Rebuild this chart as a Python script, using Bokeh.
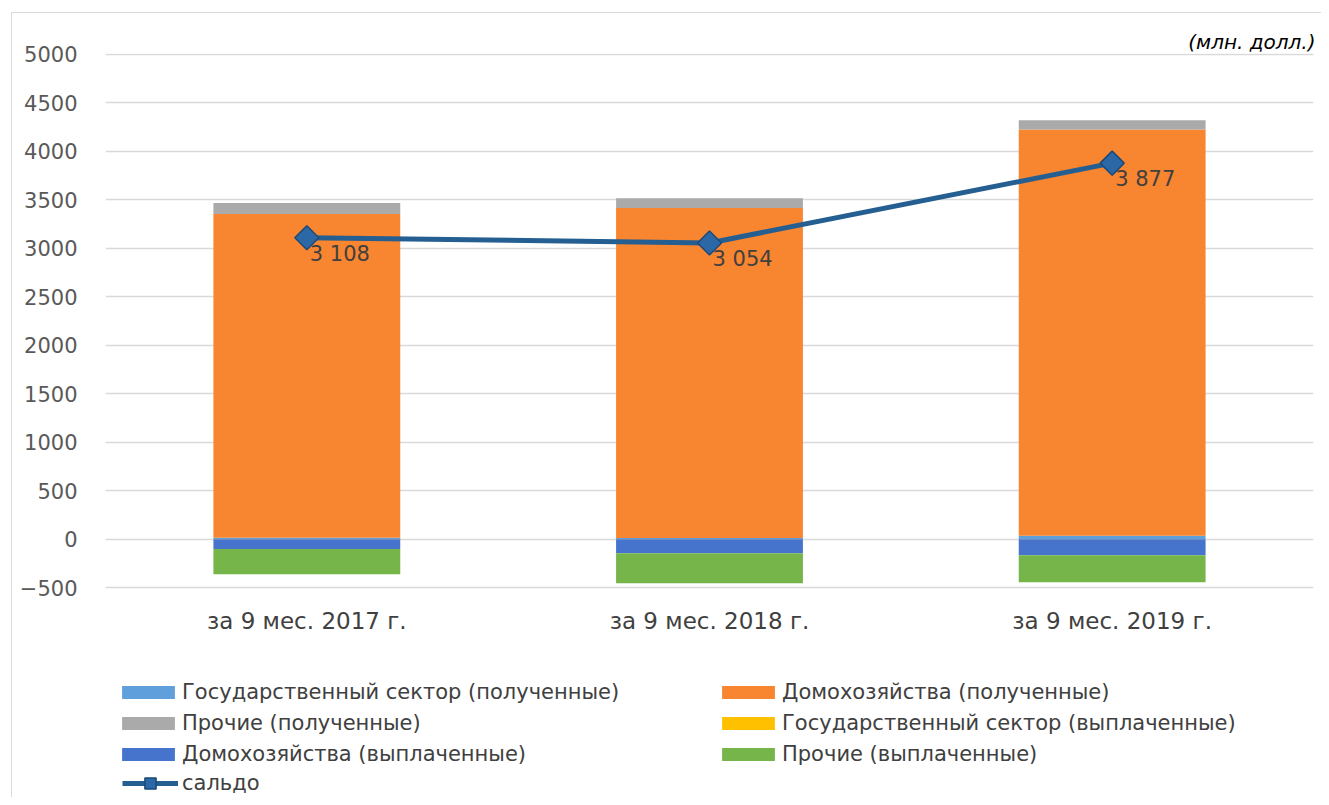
import numpy as np
from bokeh.plotting import figure
from bokeh.models import (ColumnDataSource, Legend, LegendItem, FixedTicker,
                          LabelSet, Range1d, FactorRange, Title, InlineStyleSheet)
from bokeh.embed import file_html
from bokeh.resources import INLINE
from bokeh.core.properties import value

# ---------------- data ----------------
categories = ["за 9 мес. 2017 г.", "за 9 мес. 2018 г.", "за 9 мес. 2019 г."]
gov_received = [12, 10, 35]
hh_received = [3340, 3405, 4190]
other_received = [115, 100, 95]
gov_paid = [-2, -2, -2]
hh_paid = [-100, -145, -165]
other_paid = [-260, -310, -278]
saldo = [3108, 3054, 3877]
y_ticks = [-500, 0, 500, 1000, 1500, 2000, 2500, 3000, 3500, 4000, 4500, 5000]
unit_text = "(млн. долл.)"

series_names = [
    "Государственный сектор (полученные)",
    "Домохозяйства (полученные)",
    "Прочие (полученные)",
    "Государственный сектор (выплаченные)",
    "Домохозяйства (выплаченные)",
    "Прочие (выплаченные)",
]
saldo_name = "сальдо"

# ---------------- styling ----------------
FONT = "DejaVu Sans"
colors = ["#5FA0DC", "#F8852F", "#AAAAAA", "#FFC000", "#4674CC", "#76B54A"]

pos = np.array([gov_received, hh_received, other_received], dtype=float)
neg = np.array([gov_paid, hh_paid, other_paid], dtype=float)
pos_top = np.cumsum(pos, axis=0)
pos_bot = pos_top - pos
neg_bot = np.cumsum(neg, axis=0)
neg_top = neg_bot - neg

stack_tops = [pos_top[0], pos_top[1], pos_top[2], neg_top[0], neg_top[1], neg_top[2]]
stack_bots = [pos_bot[0], pos_bot[1], pos_bot[2], neg_bot[0], neg_bot[1], neg_bot[2]]

# frame spans the whole lower area so that the legend can live inside it;
# the category axis is pinned just below the -500 gridline
Y_LOW, Y_HIGH = -2666, 5008
XAXIS_AT = -975

frame_css = InlineStyleSheet(css="""
:host::after {
  content: '';
  position: absolute;
  left: 11px; top: 12px; right: 0px; bottom: 0px;
  border-left: 1px solid #D9D9D9;
  border-top: 1px solid #D9D9D9;
  z-index: 100;
  pointer-events: none;
}
""")

W, H = 1321, 797
p = figure(x_range=FactorRange(*categories), y_range=Range1d(Y_LOW, Y_HIGH),
           width=W, height=H, output_backend="svg", toolbar_location=None,
           x_axis_location="above",
           min_border_left=105, min_border_right=8, min_border_top=53,
           min_border_bottom=0, stylesheets=[frame_css])
p.outline_line_color = None
p.background_fill_color = "white"
p.border_fill_color = "white"

renderers = []
for i, name in enumerate(series_names):
    src = ColumnDataSource(dict(x=categories, top=stack_tops[i], bottom=stack_bots[i]))
    r = p.vbar(x="x", top="top", bottom="bottom", width=0.464, source=src,
               fill_color=colors[i], line_color=None)
    renderers.append(r)

line_src = ColumnDataSource(dict(
    x=categories, y=saldo,
    lab=[f"{v:,}".replace(",", " ") for v in saldo]))
rl = p.line(x="x", y="y", source=line_src, line_color="#255E91", line_width=5)
rm = p.scatter(x="x", y="y", source=line_src, marker="square", angle=np.pi / 4,
               size=17, fill_color="#2C68A6", line_color="#1C4A78", line_width=1.5)

labels = LabelSet(x="x", y="y", text="lab", source=line_src, x_offset=3, y_offset=-16,
                  text_align="left", text_baseline="middle",
                  text_font=value(FONT), text_font_size="21px", text_color="#404040")
p.add_layout(labels)

# axes
p.yaxis.ticker = FixedTicker(ticks=y_ticks)
p.yaxis.axis_line_color = None
p.yaxis.major_tick_line_color = None
p.yaxis.minor_tick_line_color = None
p.yaxis.major_tick_out = 0
p.yaxis.major_label_standoff = 28
p.yaxis.major_label_text_font = FONT
p.yaxis.major_label_text_font_size = "21px"
p.yaxis.major_label_text_color = "#595959"

xa = p.xaxis[0]
xa.fixed_location = XAXIS_AT
xa.axis_line_color = None
xa.major_tick_line_color = None
xa.major_tick_out = 0
xa.major_label_standoff = 0
xa.major_label_text_font = FONT
xa.major_label_text_font_size = "23px"
xa.major_label_text_color = "#404040"

p.xgrid.grid_line_color = None
p.ygrid.grid_line_color = "#D9D9D9"
p.ygrid.grid_line_width = 1.5

# unit caption (top right)
p.add_layout(Title(text=unit_text, align="right", text_font=FONT,
                   text_font_style="italic", text_font_size="20px",
                   text_color="#000000", standoff=0, offset=-2), "above")

legend_style = dict(padding=0, margin=0, border_line_color=None,
                    background_fill_alpha=0, label_text_font=FONT,
                    label_text_font_size="21px", label_text_color="#404040")

# legend: bar series (two columns)
items = [LegendItem(label=n, renderers=[r]) for n, r in zip(series_names, renderers)]
legend = Legend(items=items, orientation="horizontal", ncols=2,
                location=(10, 31), glyph_width=66, glyph_height=16,
                label_standoff=1, label_width=526, label_height=24, spacing=7,
                **legend_style)
p.add_layout(legend)

# legend: balance line with its marker
legend2 = Legend(items=[LegendItem(label=saldo_name, renderers=[rl, rm])],
                 location=(17, 0), glyph_width=56, glyph_height=28,
                 label_standoff=4, label_height=24, **legend_style)
p.add_layout(legend2)

open("out.html", "w").write(file_html(p, INLINE))
